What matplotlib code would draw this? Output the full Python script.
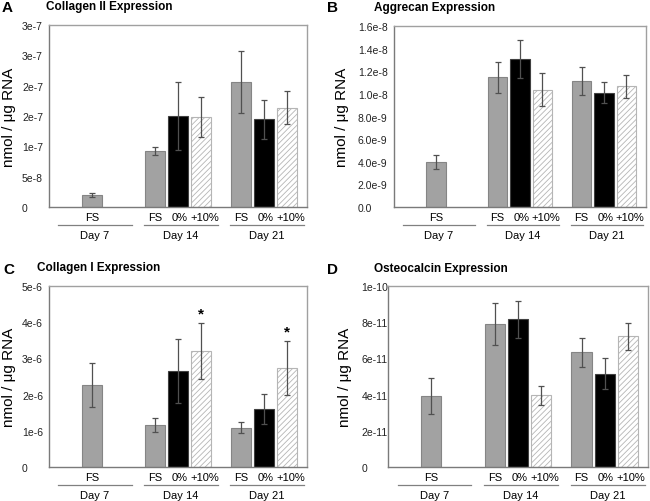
import numpy as np
import matplotlib
matplotlib.use("Agg")
import matplotlib.pyplot as plt

plt.rcParams['font.family'] = ['Liberation Sans', 'DejaVu Sans']
plt.rcParams['hatch.linewidth'] = 0.6

# data (nmol / ug RNA), order: Day 7 FS | Day 14 FS, 0%, +10% | Day 21 FS, 0%, +10%
days = ["Day 7", "Day 14", "Day 21"]
groups = ["FS", "0%", "+10%"]

col2_mean = [2.0e-8, 9.17e-8, 1.494e-7, 1.483e-7, 2.061e-7, 1.444e-7, 1.639e-7]
col2_err = [0.37e-8, 0.67e-8, 5.6e-8, 3.33e-8, 5.1e-8, 3.17e-8, 2.7e-8]

agg_mean = [4.02e-9, 1.145e-8, 1.307e-8, 1.038e-8, 1.115e-8, 1.012e-8, 1.068e-8]
agg_err = [0.62e-9, 1.36e-9, 1.7e-9, 1.46e-9, 1.26e-9, 0.97e-9, 1.03e-9]

col1_mean = [2.26e-6, 1.15e-6, 2.66e-6, 3.20e-6, 1.09e-6, 1.61e-6, 2.73e-6]
col1_err = [0.61e-6, 0.19e-6, 0.88e-6, 0.78e-6, 0.16e-6, 0.42e-6, 0.75e-6]
col1_star = [False, False, False, True, False, False, True]

ost_mean = [3.93e-11, 7.9e-11, 8.17e-11, 3.96e-11, 6.33e-11, 5.16e-11, 7.21e-11]
ost_err = [0.98e-11, 1.18e-11, 1.02e-11, 0.53e-11, 0.81e-11, 0.84e-11, 0.75e-11]

col2_ticks = [0, 5e-8, 1e-7, 1.5e-7, 2e-7, 2.5e-7, 3e-7]
col2_labels = ["0", "5e-8", "1e-7", "2e-7", "2e-7", "3e-7", "3e-7"]
agg_ticks = [0, 2e-9, 4e-9, 6e-9, 8e-9, 1e-8, 1.2e-8, 1.4e-8, 1.6e-8]
agg_labels = ["0.0", "2.0e-9", "4.0e-9", "6.0e-9", "8.0e-9", "1.0e-8", "1.2e-8", "1.4e-8", "1.6e-8"]
col1_ticks = [0, 1e-6, 2e-6, 3e-6, 4e-6, 5e-6]
col1_labels = ["0", "1e-6", "2e-6", "3e-6", "4e-6", "5e-6"]
ost_ticks = [0, 2e-11, 4e-11, 6e-11, 8e-11, 1e-10]
ost_labels = ["0", "2e-11", "4e-11", "6e-11", "8e-11", "1e-10"]

W, H = 650, 502
fig = plt.figure(figsize=(6.5, 5.02), dpi=100)


def add_axes(l, r, t, b):
    return fig.add_axes([l / W, (H - b) / H, (r - l) / W, (b - t) / H])


# bar positions: day index + offset for each group
step = 0.267
width = 0.233
xpos = [0, 1 - step, 1, 1 + step, 2 - step, 2, 2 + step]
kinds = [0, 0, 1, 2, 0, 1, 2]
sub_lbl = [groups[k] for k in kinds]
sub_shift = [0, 1, 2.5]   # small horizontal nudge of the group labels (points)


def panel(ax, mean, err, ticks, labels, pad, stars=None):
    for x, m, e, k in zip(xpos, mean, err, kinds):
        if k == 0:
            ax.bar(x, m, width, color="#a2a2a2", edgecolor="#858585", linewidth=0.8, zorder=2)
        elif k == 1:
            ax.bar(x, m, width, color="black", edgecolor="#404040", linewidth=0.8, zorder=2)
        else:
            ax.bar(x, m, width, color="white", edgecolor="#b5b5b5", hatch="//////", linewidth=0.8, zorder=2)
        ax.errorbar(x, m, yerr=e, fmt="none", ecolor="#505050", elinewidth=0.9,
                    capsize=2.5, capthick=0.9, zorder=3)
    if stars is not None:
        for x, m, e, s in zip(xpos, mean, err, stars):
            if s:
                ax.text(x, m + e + ticks[-1] * 0.015, "*", ha="center", va="bottom",
                        fontsize=11, fontweight="bold")
    ax.set_xlim(-0.5, 2.5)
    ax.set_ylim(0, ticks[-1])
    ax.set_yticks(ticks)
    ax.set_yticklabels(labels)
    for lab in ax.get_yticklabels():
        lab.set_ha("left")
    ax.tick_params(axis="y", length=0, pad=pad, labelsize=7.5, labelcolor="#222222")
    ax.set_xticks([])
    for side in ["left", "bottom"]:
        ax.spines[side].set_color("#7a7a7a")
    for side in ["top", "right"]:
        ax.spines[side].set_color("#a0a0a0")
    for sp in ax.spines.values():
        sp.set_linewidth(1.0)
    ax.set_ylabel("nmol / \u03bcg RNA", fontsize=11)

    # group labels under the axis
    tr = ax.get_xaxis_transform()
    for x, s, k in zip(xpos, sub_lbl, kinds):
        ax.annotate(s, (x, 0), xycoords=("data", "axes fraction"), xytext=(sub_shift[k], -7),
                    textcoords="offset points", ha="center", va="center", fontsize=8)
    for i, d in enumerate(days):
        ax.plot([i - 0.39, i + 0.46], [-0.099, -0.099], color="#808080", lw=0.9,
                transform=tr, clip_on=False)
        ax.annotate(d, (i + 0.035, 0), xycoords=("data", "axes fraction"), xytext=(0, -20.5),
                    textcoords="offset points", ha="center", va="center", fontsize=8)


axA = add_axes(49, 307, 26, 208)
panel(axA, col2_mean, col2_err, col2_ticks, col2_labels, 19.4)
axA.yaxis.set_label_coords(-0.128, 0.5)

axB = add_axes(394, 646, 27, 208)
panel(axB, agg_mean, agg_err, agg_ticks, agg_labels, 26)
axB.yaxis.set_label_coords(-0.178, 0.5)

axC = add_axes(49, 307, 287, 468)
panel(axC, col1_mean, col1_err, col1_ticks, col1_labels, 19.4, stars=col1_star)
axC.yaxis.set_label_coords(-0.128, 0.5)

axD = add_axes(388, 648, 287, 468)
panel(axD, ost_mean, ost_err, ost_ticks, ost_labels, 19)
axD.yaxis.set_label_coords(-0.14, 0.5)

# panel letters and titles
fig.text(2 / W, 1 - 8 / H, "A", fontsize=11, fontweight="bold", va="center")
fig.text(46 / W, 1 - 7 / H, "Collagen II Expression", fontsize=8.5, fontweight="bold", va="center")
fig.text(327 / W, 1 - 8 / H, "B", fontsize=11, fontweight="bold", va="center")
fig.text(374 / W, 1 - 8 / H, "Aggrecan Expression", fontsize=8.5, fontweight="bold", va="center")
fig.text(3 / W, 1 - 270 / H, "C", fontsize=11, fontweight="bold", va="center")
fig.text(37 / W, 1 - 268 / H, "Collagen I Expression", fontsize=8.5, fontweight="bold", va="center")
fig.text(327 / W, 1 - 270 / H, "D", fontsize=11, fontweight="bold", va="center")
fig.text(374 / W, 1 - 269 / H, "Osteocalcin Expression", fontsize=8.5, fontweight="bold", va="center")

fig.savefig("out.png", dpi=100)
